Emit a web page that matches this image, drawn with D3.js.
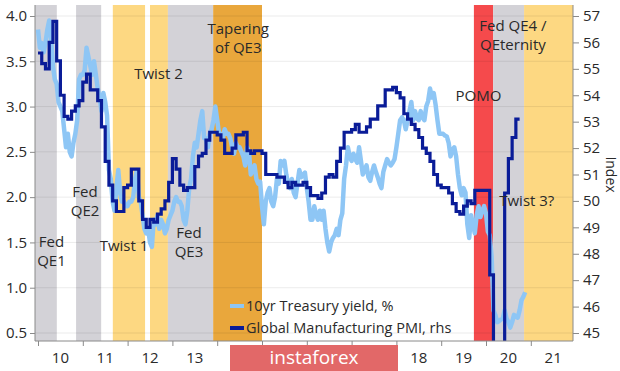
<!DOCTYPE html>
<html>
<head>
<meta charset="utf-8">
<script src="https://cdn.jsdelivr.net/npm/d3@7"></script>
<style>
  body { margin: 0; background: #fff; }
  svg { display: block; font-family: "Open Sans", sans-serif; }
</style>
</head>
<body>
<div id="chart"></div>
<script>
// 10yr Treasury yield, %, two readings per month from Jan 2010
const yieldStart = 2010;
const yieldHalfMonthly = [
  // 2010
  3.85, 3.65, 3.70, 3.60, 3.70, 3.85, 3.95, 3.75, 3.45, 3.30, 3.25, 3.05,
  3.00, 2.95, 2.75, 2.55, 2.70, 2.50, 2.45, 2.60, 2.70, 2.85, 3.30, 3.35,
  // 2011
  3.35, 3.40, 3.65, 3.55, 3.45, 3.35, 3.50, 3.35, 3.20, 3.10, 2.95, 3.15,
  3.05, 2.90, 2.30, 2.20, 1.95, 1.85, 2.10, 2.30, 2.05, 1.95, 1.95, 1.90,
  // 2012
  1.90, 1.95, 1.95, 2.00, 2.20, 2.30, 2.00, 1.95, 1.80, 1.65, 1.60, 1.65,
  1.50, 1.45, 1.75, 1.70, 1.80, 1.65, 1.75, 1.70, 1.60, 1.65, 1.75, 1.80,
  // 2013
  1.85, 1.95, 2.00, 1.95, 1.95, 1.90, 1.75, 1.70, 1.85, 2.10, 2.20, 2.45,
  2.60, 2.55, 2.70, 2.85, 2.95, 2.65, 2.65, 2.55, 2.70, 2.75, 2.85, 3.00,
  // 2014
  2.85, 2.70, 2.70, 2.65, 2.75, 2.70, 2.70, 2.65, 2.55, 2.48, 2.60, 2.55,
  2.55, 2.50, 2.45, 2.35, 2.55, 2.50, 2.25, 2.30, 2.35, 2.20, 2.15, 2.17,
  // 2015
  1.90, 1.70, 1.95, 2.05, 2.10, 1.95, 1.90, 2.00, 2.20, 2.15, 2.40, 2.35,
  2.40, 2.25, 2.15, 2.10, 2.20, 2.05, 2.00, 2.15, 2.30, 2.22, 2.25, 2.27,
  // 2016
  2.10, 1.95, 1.75, 1.75, 1.90, 1.80, 1.75, 1.85, 1.75, 1.85, 1.65, 1.50,
  1.40, 1.50, 1.55, 1.58, 1.65, 1.58, 1.75, 1.82, 2.20, 2.35, 2.55, 2.45,
  // 2017
  2.40, 2.48, 2.42, 2.38, 2.55, 2.40, 2.25, 2.30, 2.35, 2.22, 2.18, 2.28,
  2.35, 2.28, 2.22, 2.15, 2.10, 2.28, 2.35, 2.42, 2.38, 2.35, 2.38, 2.42,
  // 2018
  2.55, 2.70, 2.85, 2.88, 2.85, 2.75, 2.85, 2.95, 3.05, 2.85, 2.95, 2.87,
  2.85, 2.95, 2.88, 2.85, 3.00, 3.06, 3.20, 3.10, 3.15, 3.02, 2.85, 2.70,
  // 2019
  2.70, 2.70, 2.68, 2.67, 2.60, 2.45, 2.52, 2.55, 2.45, 2.25, 2.10, 2.02,
  2.10, 2.05, 1.70, 1.55, 1.80, 1.70, 1.60, 1.80, 1.90, 1.78, 1.85, 1.90,
  // 2020
  1.82, 1.62, 1.58, 1.35, 0.75, 0.70, 0.62, 0.63, 0.65, 0.66, 0.75, 0.66,
  0.62, 0.56, 0.62, 0.70, 0.68, 0.67, 0.75, 0.86, 0.90, 0.95
];

// Global Manufacturing PMI (rhs), monthly from Jan 2010
const pmiStart = 2010;
const pmiMonthly = [
  55.6, 55.2, 55.0, 56.0, 56.8, 55.3, 54.0, 53.2, 53.1, 53.4, 53.6, 53.8, // 2010
  54.5, 54.8, 54.2, 54.2, 53.8, 52.8, 51.5, 50.6, 50.0, 49.6, 49.6, 50.5, // 2011
  50.6, 51.2, 51.2, 50.0, 49.3, 49.0, 49.3, 49.2, 49.5, 49.7, 50.0, 50.7, // 2012
  51.6, 51.2, 50.6, 50.4, 50.5, 50.5, 51.3, 51.7, 51.8, 52.3, 52.6, 52.6, // 2013
  52.5, 52.3, 51.8, 51.8, 52.0, 52.5, 52.5, 52.6, 51.9, 51.8, 51.9, 51.9, // 2014
  51.8, 51.0, 51.0, 51.0, 50.9, 50.9, 50.7, 50.5, 50.7, 50.6, 50.6, 50.7, // 2015
  50.5, 50.2, 50.2, 50.1, 50.3, 50.9, 51.0, 50.9, 51.5, 52.0, 52.6, 52.6, // 2016
  52.7, 52.9, 52.6, 52.6, 52.8, 53.1, 53.1, 53.6, 53.6, 54.2, 54.2, 54.3, // 2017
  54.1, 53.9, 53.3, 53.1, 52.9, 52.7, 52.4, 52.0, 51.8, 51.5, 51.0, 50.6, // 2018
  50.5, 50.5, 50.3, 49.9, 49.6, 49.5, 49.8, 50.0, 49.9, 50.4, 50.4, 50.4, // 2019
  50.4, 47.2, 40.0, 39.6, 42.4, 50.3, 51.6, 52.4, 53.1, 53.1             // 2020
];

// shaded policy periods (in years)
const bandStarts = [2009.9, 2010.85, 2011.67, 2012.5, 2012.9, 2013.91, 2019.73, 2020.16, 2020.85];
const bandEnds   = [2010.42, 2011.41, 2012.39, 2012.9, 2013.91, 2015.0, 2020.16, 2020.85, 2022.2];
const bandKinds  = ['qe', 'qe', 'twist', 'twist', 'qe', 'taper', 'pomo', 'qe', 'twist'];

const noteLines = [
  ['Fed', 'QE1'], ['Fed', 'QE2'], ['Twist 1'], ['Twist 2'], ['Fed', 'QE3'],
  ['Tapering', 'of QE3'], ['POMO'], ['Fed QE4 /', 'QEternity'], ['Twist 3?']
];
const noteYears = [2010.3, 2011.05, 2011.92, 2012.69, 2013.37, 2014.47, 2019.83, 2020.6, 2020.91];
const noteValues = [1.45, 2.0, 1.4, 3.3, 1.55, 3.8, 3.06, 3.83, 1.9]; // left-axis units

const leftTicks = [0.5, 1.0, 1.5, 2.0, 2.5, 3.0, 3.5, 4.0];
const rightTicks = d3.range(45, 58);
const years = d3.range(2010, 2022);
// 14-17 sit under the watermark in the original
const yearLabels = ['10', '11', '12', '13', '', '', '', '', '18', '19', '20', '21'];

const seriesNames = ['10yr Treasury yield, %', 'Global Manufacturing PMI, rhs'];

const width = 620;
const height = 371;
const plot = { left: 35, right: 573, top: 5, bottom: 341 };

const colors = {
  qe: '#d3d2d7', twist: '#fdd882', taper: '#e9a73c', pomo: '#f54a4c',
  yield: '#8ec6f5', pmi: '#0a1c98', text: '#2a2a2a', axis: '#8a8a8a'
};

const x = d3.scaleLinear().domain([2010, 2021]).range([38, 530.8]);
const yLeft = d3.scaleLinear().domain([0.5, 4.0]).range([333, 16]);
const yRight = d3.scaleLinear().domain([45, 57]).range([333, 16]);
const xc = t => Math.max(plot.left, Math.min(plot.right, x(t)));

const svg = d3.select('#chart').append('svg')
  .attr('width', width)
  .attr('height', height);

svg.append('defs').append('clipPath').attr('id', 'plot-clip')
  .append('rect')
    .attr('x', plot.left).attr('y', plot.top)
    .attr('width', plot.right - plot.left).attr('height', plot.bottom - plot.top);

// bands
svg.append('g')
  .selectAll('rect')
  .data(bandStarts.map((s, i) => ({ s, e: bandEnds[i], kind: bandKinds[i] })))
  .join('rect')
    .attr('x', d => xc(d.s))
    .attr('width', d => xc(d.e) - xc(d.s))
    .attr('y', plot.top)
    .attr('height', plot.bottom - plot.top)
    .attr('fill', d => colors[d.kind]);

// gridlines
svg.append('g')
  .selectAll('line')
  .data(leftTicks)
  .join('line')
    .attr('x1', plot.left).attr('x2', plot.right)
    .attr('y1', d => yLeft(d)).attr('y2', d => yLeft(d))
    .attr('stroke', '#000')
    .attr('stroke-opacity', 0.08);

const lines = svg.append('g').attr('clip-path', 'url(#plot-clip)');

const yieldData = yieldHalfMonthly.map((v, i) => ({ t: yieldStart + i / 24, v }));
const pmiData = pmiMonthly.map((v, i) => ({ t: pmiStart + i / 12, v }));

lines.append('path')
  .datum(yieldData)
  .attr('fill', 'none')
  .attr('stroke', colors.yield)
  .attr('stroke-width', 4.5)
  .attr('stroke-linejoin', 'round')
  .attr('d', d3.line().x(d => x(d.t)).y(d => yLeft(d.v)));

lines.append('path')
  .datum(pmiData)
  .attr('fill', 'none')
  .attr('stroke', colors.pmi)
  .attr('stroke-width', 3.2)
  .attr('d', d3.line().curve(d3.curveStepAfter).x(d => x(d.t)).y(d => yRight(d.v)));

// notes
svg.append('g')
    .attr('font-size', 15)
    .attr('fill', colors.text)
    .attr('text-anchor', 'middle')
  .selectAll('text')
  .data(noteLines.map((l, i) => ({ l, t: noteYears[i], v: noteValues[i] })))
  .join('text')
    .attr('x', d => x(d.t))
    .attr('y', d => yLeft(d.v))
    .call(text => text.selectAll('tspan')
      .data(d => d.l.map(s => ({ s, t: d.t })))
      .join('tspan')
        .attr('x', d => x(d.t))
        .attr('dy', (d, i) => i === 0 ? 0 : 19)
        .text(d => d.s));

// legend
const legend = svg.append('g')
    .attr('transform', 'translate(230,306)')
    .attr('font-size', 14.5)
    .attr('fill', colors.text);

legend.selectAll('g')
  .data(seriesNames)
  .join('g')
    .attr('transform', (d, i) => `translate(0,${i * 22})`)
    .call(g => g.append('line')
      .attr('x1', 0).attr('x2', 14)
      .attr('stroke', (d, i) => i === 0 ? colors.yield : colors.pmi)
      .attr('stroke-width', 4))
    .call(g => g.append('text')
      .attr('x', 16)
      .attr('dy', '0.35em')
      .text(d => d));

// axes
const axisStyle = g => {
  g.select('.domain').remove();
  g.selectAll('.tick line').attr('stroke', colors.axis);
  g.selectAll('.tick text').attr('fill', colors.text).attr('font-size', 15)
    .attr('font-family', '"Open Sans", sans-serif');
};

svg.append('g')
    .attr('transform', `translate(${plot.left},0)`)
    .call(d3.axisLeft(yLeft).tickValues(leftTicks).tickFormat(d3.format('.1f')).tickSize(5).tickPadding(3))
    .call(axisStyle);

svg.append('g')
    .attr('transform', `translate(${plot.right},0)`)
    .call(d3.axisRight(yRight).tickValues(rightTicks).tickSize(6).tickPadding(4))
    .call(axisStyle);

svg.append('g')
    .attr('transform', `translate(0,${plot.bottom})`)
    .call(d3.axisBottom(x).tickValues(years).tickFormat('').tickSize(5))
    .call(axisStyle);

svg.append('g')
    .attr('font-size', 15)
    .attr('fill', colors.text)
    .attr('text-anchor', 'middle')
  .selectAll('text')
  .data(years.filter((d, i) => yearLabels[i] !== ''))
  .join('text')
    .attr('x', d => x(d + 0.5))
    .attr('y', 363)
    .text(d => yearLabels[years.indexOf(d)]);

svg.append('g')
    .attr('stroke', colors.axis)
    .call(g => g.append('line')
      .attr('x1', plot.left).attr('x2', plot.left)
      .attr('y1', plot.top).attr('y2', plot.bottom))
    .call(g => g.append('line')
      .attr('x1', plot.right).attr('x2', plot.right)
      .attr('y1', plot.top).attr('y2', plot.bottom))
    .call(g => g.append('line')
      .attr('x1', plot.left).attr('x2', plot.right)
      .attr('y1', plot.bottom).attr('y2', plot.bottom));

svg.append('text')
    .attr('transform', `translate(606,${yRight(51)}) rotate(90)`)
    .attr('text-anchor', 'middle')
    .attr('font-size', 14)
    .attr('fill', colors.text)
    .text('Index');

// watermark
svg.append('rect')
    .attr('x', 230).attr('y', 345)
    .attr('width', 168).attr('height', 26)
    .attr('fill', '#e26868');

svg.append('text')
    .attr('x', 314).attr('y', 364)
    .attr('text-anchor', 'middle')
    .attr('font-size', 19)
    .attr('fill', '#fff')
    .text('instaforex');
</script>
</body>
</html>
